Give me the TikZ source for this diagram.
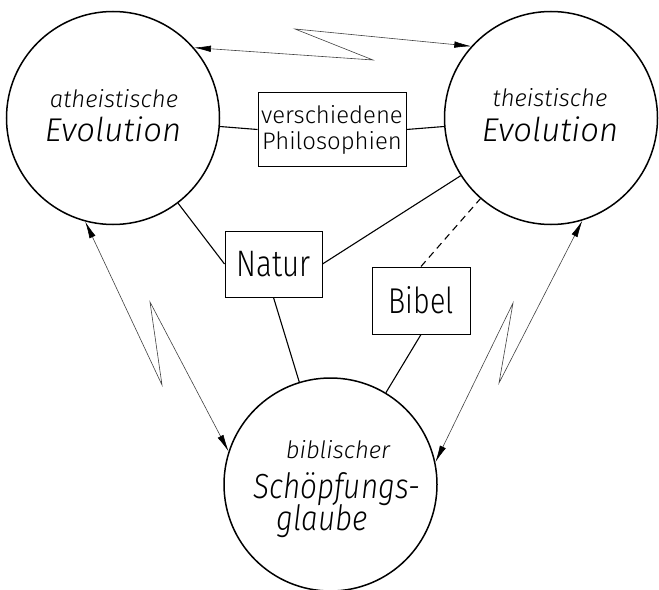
\documentclass[tikz,border=0pt]{standalone}
\usepackage{fontspec}
\setmainfont{Fira Sans Light}[ItalicFont={Fira Sans Light Italic}]
\newfontfamily\condfont{Fira Sans Light}[FakeStretch=0.8, ItalicFont={Fira Sans Light Italic}, ItalicFeatures={FakeStretch=0.85}]
\usetikzlibrary{arrows.meta}
\begin{document}
\begin{tikzpicture}[x=1bp,y=-1bp,
  bigcirc/.style={draw, circle, line width=1.5bp, minimum size=213bp, inner sep=0pt},
  box/.style={draw, line width=1bp, inner sep=0pt, align=center},
  conn/.style={line width=1.1bp},
  zig/.style={line width=0.6bp, draw=black!75, {Latex[length=17bp,width=6.5bp,black]}-{Latex[length=17bp,width=6.5bp,black]}},
  smalltxt/.style={font=\fontsize{24}{28}\selectfont\itshape, anchor=base, inner sep=0pt},
  largetxt/.style={font=\fontsize{33}{36}\selectfont\itshape, anchor=base, inner sep=0pt},
  condtxt/.style={font=\fontsize{35}{36}\selectfont\condfont\itshape, anchor=base, inner sep=0pt, text depth=0pt},
]
\useasboundingbox (0,0) rectangle (659,590);

% circles
\node[bigcirc] (A) at (113,118) {};
\node[bigcirc] (T) at (551,118) {};
\node[bigcirc] (S) at (330.5,484.5) {};

% circle texts
\node[smalltxt] (a1) at (114,108) {atheistische};
\node[largetxt] (a2) at (113,142) {Evolution};
\node[smalltxt] (t1) at (550,107) {theistische};
\node[largetxt] (t2) at (550,142) {Evolution};
\node[smalltxt] (s1) at (338,458) {biblischer};
\node[condtxt] (s2) at (337,498) {Schöpfungs-};
\node[condtxt, text height=18bp] (s3) at (322,530) {glaube};

% boxes
\node[box, minimum width=148bp, minimum height=73bp, font=\fontsize{24}{26}\selectfont] (P) at (332,129.5) {verschiedene\\Philosophien};
\node[box, minimum width=97bp, minimum height=66bp, font=\fontsize{37}{40}\selectfont\condfont] (N) at (273.5,264) {Natur};
\node[box, minimum width=98bp, minimum height=67bp, font=\fontsize{36}{40}\selectfont\condfont] (B) at (421,300.5) {Bibel};

% connectors
\draw[conn] (A) -- (P.west);
\draw[conn] (P.east) -- (T);
\draw[conn] (A) -- (N.west);
\draw[conn] (N.east) -- (T);
\draw[conn] (N.south) -- (S);
\draw[conn, dash pattern=on 7bp off 5bp] (B.north) -- (T);
\draw[conn] (B.south) -- (S);

% zigzag arrows
\coordinate (z1) at (373,60);
\coordinate (z2) at (295,29);
\draw[zig] (A.41.6) -- (z1) -- (z2) -- (T.138);
\coordinate (z3) at (162,385);
\coordinate (z4) at (150,302);
\draw[zig] (A.255.6) -- (z3) -- (z4) -- (S.162);
\coordinate (z5) at (499,383);
\coordinate (z6) at (513,303);
\draw[zig] (T.287) -- (z5) -- (z6) -- (S.12.5);
\end{tikzpicture}
\end{document}
